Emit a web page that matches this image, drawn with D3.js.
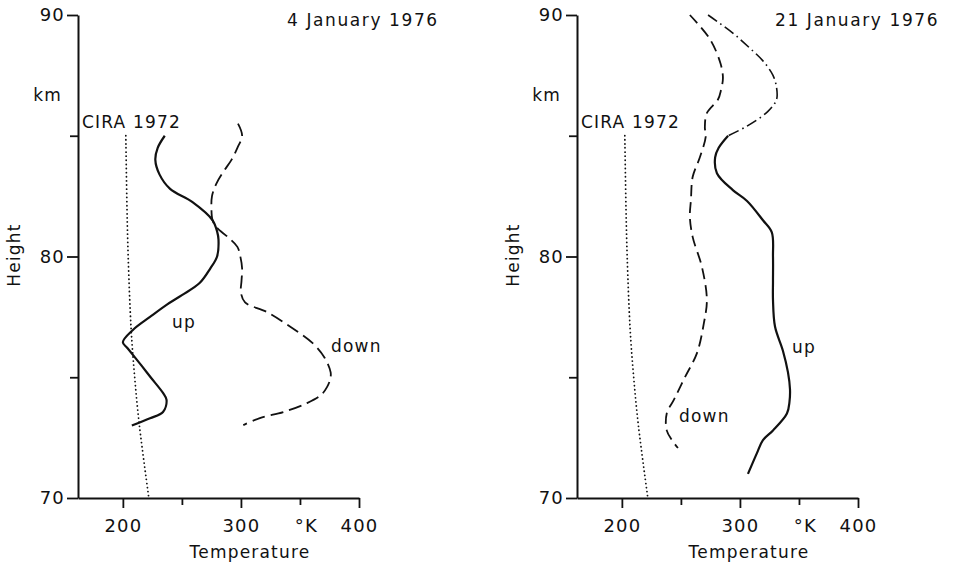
<!DOCTYPE html>
<html>
<head>
<meta charset="utf-8">
<script src="https://cdn.jsdelivr.net/npm/d3@7"></script>
<style>
  body { margin: 0; background: #fff; }
  svg text { font-family: "DejaVu Sans", sans-serif; fill: #111; letter-spacing: 1.2px; }
</style>
</head>
<body>
<script>
// [height km, temperature K]
var cira1972 = [[85, 202.5], [82, 203.5], [80, 204.5], [77, 207], [75, 210], [73, 214], [70, 222]];

var jan4Up = [[85.0, 235.5], [84.5, 229.5], [84.0, 227.5], [83.4, 231], [82.8, 240], [82.25, 259],
  [81.5, 276], [81.0, 280], [80.7, 281], [80.0, 279.8], [79.5, 274], [78.9, 265], [78.4, 250],
  [78.0, 237], [77.5, 223], [76.96, 208.5], [76.45, 200], [76.2, 204], [75.5, 215.5],
  [75.0, 223.5], [74.35, 234], [74.06, 237], [73.56, 234], [73.3, 223], [73.0, 207.6]];

var jan4Down = [[85.5, 297.5], [85.0, 301], [84.5, 297], [84.0, 292], [83.5, 285], [83.0, 279],
  [82.5, 275.5], [82.0, 275], [81.5, 276], [81.2, 279.5], [80.8, 289], [80.4, 297], [80.0, 299.5],
  [79.5, 301], [79.0, 300.5], [78.5, 300], [78.1, 303.5], [77.7, 322], [77.1, 341.5], [76.4, 361],
  [75.8, 371], [75.2, 376], [74.9, 375.5], [74.6, 373], [74.27, 368], [73.93, 356], [73.56, 336],
  [73.31, 316], [73.02, 302]];

var jan21UpTop = [[90.0, 273], [89.25, 294], [88.6, 309], [88.1, 319.5], [87.5, 328], [87.0, 331],
  [86.5, 331], [86.0, 323.5], [85.4, 306], [85.0, 290]];

var jan21Up = [[85.0, 290], [84.5, 282], [84.1, 279], [83.45, 280.5], [82.75, 294], [82.3, 306],
  [81.5, 319.5], [81.0, 327], [80.0, 328], [79.0, 328], [78.2, 328], [77.1, 329.7], [76.1, 336.4],
  [75.2, 340.7], [74.5, 342.4], [74.0, 342], [73.5, 339.8], [72.8, 328], [72.4, 319.5],
  [71.86, 314.4], [71.0, 306.8]];

var jan21Down = [[90.0, 257.6], [89.0, 274.6], [88.0, 283.5], [87.4, 285.6], [86.9, 284],
  [86.5, 281.4], [85.94, 272], [85.36, 270.3], [84.95, 271], [84.1, 266], [83.3, 260],
  [82.34, 258.5], [81.64, 257.6], [80.8, 260], [79.57, 267.8], [78.2, 272], [77.25, 269.5],
  [76.0, 263.6], [75.0, 253.4], [74.06, 244], [73.5, 238], [72.8, 238], [72.4, 242.4], [72.07, 247.5]];

var tempTicks = [200, 250, 300, 350, 400];
var heightTicks = [70, 75, 80, 85, 90];

var svg = d3.select("body").append("svg")
  .attr("width", 955)
  .attr("height", 566);

var x = d3.scaleLinear().domain([162, 400]).range([0, 281]);
var y = d3.scaleLinear().domain([70, 90]).range([498, 15]);

var line = d3.line()
  .x(function (d) { return x(d[1]); })
  .y(function (d) { return y(d[0]); })
  .curve(d3.curveCatmullRom.alpha(0.5));

function drawPanel(left, title, titleX, series, labels) {
  var g = svg.append("g").attr("transform", "translate(" + left + ",0)");

  // axes
  var yAxis = g.append("g")
    .call(d3.axisLeft(y).tickValues(heightTicks).tickSize(11).tickSizeOuter(0)
      .tickFormat(function (d) { return d % 10 === 0 ? d : ""; }));
  var xAxis = g.append("g")
    .attr("transform", "translate(0," + y(70) + ")")
    .call(d3.axisBottom(x).tickValues(tempTicks).tickSize(10).tickSizeOuter(0)
      .tickFormat(function (d) { return d === 350 ? "°K" : (d % 100 === 0 ? d : ""); }));

  [yAxis, xAxis].forEach(function (a) {
    a.select(".domain").attr("stroke", "#111").attr("stroke-width", 2);
    a.selectAll(".tick line").attr("stroke", "#111").attr("stroke-width", 1.8);
    a.selectAll("text").attr("font-size", 18).attr("fill", "#111")
      .style("font-family", "DejaVu Sans, sans-serif");
  });
  yAxis.selectAll(".tick").filter(function (d) { return d % 10 !== 0; })
    .select("line").attr("x2", -8);
  yAxis.selectAll(".tick text").attr("x", -13);
  xAxis.selectAll(".tick").filter(function (d) { return d % 100 !== 0; })
    .select("line").attr("y2", 7);
  xAxis.selectAll(".tick text").attr("y", 21);
  xAxis.selectAll(".tick").filter(function (d) { return d === 350; })
    .select("text").attr("dx", 6);

  // profiles
  series.forEach(function (s) {
    g.append("path")
      .datum(s.data)
      .attr("d", line)
      .attr("fill", "none")
      .attr("stroke", "#111")
      .attr("stroke-width", s.width)
      .attr("stroke-linecap", s.cap || "butt")
      .attr("stroke-dasharray", s.dash);
  });

  // text
  g.append("text").attr("x", titleX).attr("y", 26).attr("font-size", 17)
    .style("letter-spacing", "1.6px").text(title);
  g.append("text").attr("x", -16).attr("y", 101).attr("font-size", 17)
    .attr("text-anchor", "end").text("km");
  g.append("text").attr("x", 4).attr("y", 128).attr("font-size", 17).text("CIRA 1972");
  g.append("text").attr("transform", "translate(-58,255) rotate(-90)")
    .attr("font-size", 17).attr("text-anchor", "middle").text("Height");
  g.append("text").attr("x", 172).attr("y", 558).attr("font-size", 17)
    .attr("text-anchor", "middle").text("Temperature");
  labels.forEach(function (l) {
    g.append("text").attr("x", l.x).attr("y", l.y).attr("font-size", 17).text(l.text);
  });
}

drawPanel(78, "4 January 1976", 209, [
  { data: cira1972, width: 1.8, dash: "0.1,4", cap: "round" },
  { data: jan4Up, width: 2.2, dash: null },
  { data: jan4Down, width: 1.8, dash: "13,6" }
], [
  { text: "up", x: 94, y: 328 },
  { text: "down", x: 253, y: 352 }
]);

drawPanel(577, "21 January 1976", 198, [
  { data: cira1972, width: 1.8, dash: "0.1,4", cap: "round" },
  { data: jan21UpTop, width: 1.6, dash: "11,4,1.5,4" },
  { data: jan21Up, width: 2.2, dash: null },
  { data: jan21Down, width: 1.8, dash: "11,6" }
], [
  { text: "up", x: 215, y: 353 },
  { text: "down", x: 102, y: 422 }
]);
</script>
</body>
</html>
